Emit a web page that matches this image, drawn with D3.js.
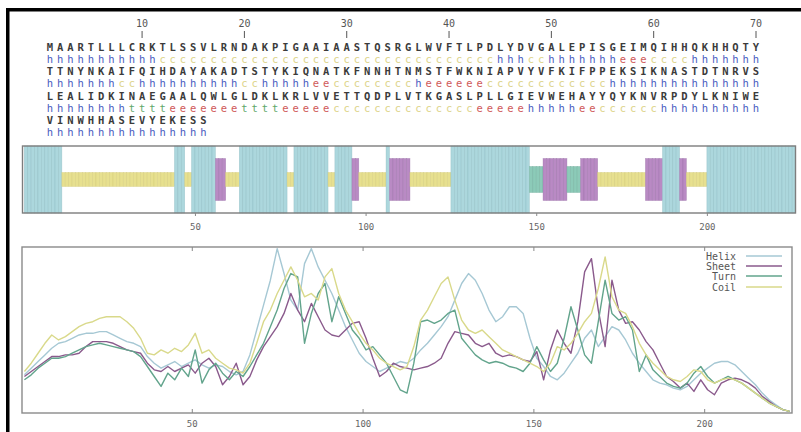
<!DOCTYPE html>
<html><head><meta charset="utf-8">
<script src="https://cdn.jsdelivr.net/npm/d3@7"></script>
<style>body{margin:0;background:#fff} svg{display:block}</style>
</head><body>
<svg id="c" width="801" height="432"></svg>
<script>
// ---------- DATA ----------
const seqLines = [
  "MAARTLLLCRKTLSSVLRNDAKPIGAAIAASTQSRGLWVFTLPDLYDVGALEPISGEIMQIHHQKHHQTY",
  "TTNYNKAIFQIHDAYAKADTSTYKIQNATKFNNHTNMSTFWKNIAPVYVFKIFPPEKSIKNASTDTNRVS",
  "LEALIDKINAEGAALQWLGLDKLKRLVVETTQDPLVTKGASLPLLGIEVWEHAYYQYKNVRPDYLKNIWE",
  "VINWHHASEVYEKESS"
];
// predicted secondary structure runs: [state, length]
const ssRuns = [["h",11],["c",33],["h",3],["c",2],["h",7],["e",3],["c",4],["h",14],["c",2],
  ["h",10],["c",2],["h",5],["e",2],["c",8],["h",1],["e",6],["c",12],["h",23],["t",4],["e",7],
  ["t",4],["e",5],["c",14],["e",5],["h",5],["e",2],["c",6],["h",26]];
const rulerTicks = [10,20,30,40,50,60,70];
const axisTicks = [50,100,150,200];
const seriesNames = ["Helix","Sheet","Turn","Coil"];
const residues = [1,3,5,7,9,11,13,15,17,19,21,23,25,27,29,31,33,35,37,39,41,43,45,47,49,51,53,55,57,59,
  61,63,65,67,69,71,73,75,77,79,81,83,85,87,89,91,93,95,97,99,101,103,105,107,109,111,113,115,117,119,
  121,123,125,127,129,131,133,135,137,139,141,143,145,147,149,151,153,155,157,159,161,163,165,167,169,
  171,173,175,177,179,181,183,185,187,189,191,193,195,197,199,201,203,205,207,209,211,213,215,217,219,
  221,223,225];
const helix = [.23,.27,.31,.35,.39,.42,.43,.45,.47,.48,
  .48,.49,.49,.47,.45,.43,.42,.40,.34,.30,
  .27,.29,.31,.28,.30,.32,.29,.27,.29,.28,
  .25,.23,.25,.35,.50,.65,.80,.99,.84,.68,
  .62,.90,.99,.88,.80,.72,.62,.52,.44,.36,
  .31,.28,.25,.27,.29,.31,.30,.33,.38,.42,
  .47,.52,.58,.68,.78,.84,.80,.72,.62,.55,
  .58,.64,.64,.60,.45,.33,.28,.22,.20,.24,
  .30,.36,.45,.50,.40,.46,.52,.50,.44,.36,
  .30,.25,.20,.18,.17,.15,.14,.16,.20,.24,
  .27,.30,.31,.31,.29,.25,.21,.17,.12,.08,
  .05,.02,.01];
const sheet = [.22,.25,.28,.31,.34,.34,.35,.35,.36,.40,
  .43,.43,.43,.42,.40,.38,.37,.36,.30,.26,
  .25,.28,.25,.27,.29,.24,.30,.33,.28,.17,
  .22,.30,.17,.22,.32,.40,.46,.52,.60,.72,
  .62,.55,.66,.58,.50,.47,.46,.50,.54,.55,
  .45,.33,.22,.25,.30,.28,.27,.26,.27,.28,
  .30,.33,.42,.49,.48,.47,.42,.40,.42,.36,
  .34,.35,.34,.32,.31,.37,.20,.38,.50,.42,
  .36,.55,.85,.93,.62,.40,.80,.62,.54,.55,
  .50,.43,.38,.30,.22,.19,.15,.18,.13,.20,
  .14,.11,.18,.20,.21,.20,.18,.15,.10,.07,
  .04,.02,.01];
const turn = [.20,.23,.27,.30,.33,.33,.34,.36,.38,.40,
  .41,.42,.41,.40,.39,.38,.37,.34,.28,.22,
  .16,.24,.20,.27,.22,.38,.18,.26,.30,.24,
  .20,.25,.22,.28,.35,.42,.52,.62,.75,.84,
  .82,.42,.60,.72,.78,.55,.70,.60,.50,.45,
  .38,.40,.35,.30,.22,.14,.12,.30,.55,.56,
  .54,.56,.60,.62,.45,.40,.35,.32,.30,.31,
  .30,.28,.27,.25,.30,.40,.32,.25,.30,.45,
  .64,.50,.35,.30,.55,.80,.60,.56,.58,.50,
  .25,.35,.26,.22,.18,.16,.15,.18,.24,.28,
  .22,.18,.20,.22,.20,.18,.15,.12,.09,.06,
  .04,.02,.01];
const coil = [.25,.30,.36,.42,.47,.44,.46,.49,.52,.54,
  .55,.57,.58,.58,.58,.55,.51,.45,.36,.35,
  .38,.36,.39,.37,.41,.48,.36,.38,.33,.30,
  .27,.26,.24,.30,.42,.55,.62,.72,.80,.88,
  .80,.70,.72,.68,.82,.87,.72,.62,.55,.48,
  .42,.38,.33,.30,.28,.26,.28,.40,.56,.62,
  .70,.78,.82,.68,.56,.50,.48,.50,.46,.42,
  .38,.36,.34,.32,.30,.28,.25,.30,.40,.38,
  .42,.48,.55,.60,.75,.94,.70,.62,.60,.52,
  .42,.35,.30,.26,.22,.20,.19,.22,.26,.25,
  .20,.18,.20,.21,.20,.18,.15,.12,.09,.06,
  .04,.02,.01];

// ---------- STYLE ----------
const ssColor = {h:"#4a5cc0", c:"#ddd48a", e:"#d05a5a", t:"#5fa86a"};
const barFill = {h:"#acd7dd", c:"#e7e08f", e:"#b98ac4", t:"#8ccab8"};
const barStroke = {h:"#86b6be", c:"#cfc672", e:"#946aa2", t:"#6aa896"};
const lineColor = ["#a6c8d4","#8a5a8c","#62a48c","#d9d98a"];

const ss = ssRuns.map(([s,n]) => s.repeat(n)).join("");
const ssLines = [0,1,2,3].map(i => ss.slice(i*70, i*70+70));

const svg = d3.select("#c");
svg.append("rect").attr("width",801).attr("height",432).attr("fill","#fff");
// outer black frame (top + left)
svg.append("rect").attr("x",6).attr("y",8).attr("width",795).attr("height",3.5).attr("fill","#000");
svg.append("rect").attr("x",6).attr("y",8).attr("width",3.5).attr("height",424).attr("fill","#000");

// ---------- SEQUENCE TEXT ----------
const charX = d3.scaleLinear().domain([1,70]).range([50,756]);
const mono = "'DejaVu Sans Mono', monospace";
const txt = svg.append("g");
txt.selectAll("text.rl").data(rulerTicks).join("text").attr("class","rl")
  .attr("x", d => charX(d)).attr("y", 27).attr("text-anchor","middle")
  .attr("font-family", mono).attr("font-size", 10).attr("fill","#555").text(d => d);
txt.selectAll("line.rt").data(rulerTicks).join("line").attr("class","rt")
  .attr("x1", d => charX(d)).attr("x2", d => charX(d)).attr("y1", 31).attr("y2", 38)
  .attr("stroke","#555").attr("stroke-width",1);

const rowBase = [51, 63, 75, 87, 100, 112, 124, 136];
seqLines.forEach((line, li) => {
  const yS = rowBase[li*2], yT = rowBase[li*2+1];
  txt.append("g").selectAll("text").data(line.split("")).join("text")
    .attr("x", (d,i) => charX(i+1)).attr("y", yS).attr("text-anchor","middle")
    .attr("font-family", mono).attr("font-size", 10.5).attr("font-weight","bold")
    .attr("fill","#3b3b3b").text(d => d);
  txt.append("g").selectAll("text").data(ssLines[li].split("")).join("text")
    .attr("x", (d,i) => charX(i+1)).attr("y", yT).attr("text-anchor","middle")
    .attr("font-family", mono).attr("font-size", 10.5)
    .attr("fill", d => ssColor[d]).text(d => d);
});

// ---------- STRUCTURE BAR PANEL ----------
const xb = d3.scaleLinear().domain([0,226]).range([24.3,795.6]);
const barTop = 146, barBot = 213, barMid = (barTop+barBot)/2;
const halfH = {h:(barBot-barTop)/2, e:21, t:13, c:7};
const bars = svg.append("g");
bars.selectAll("rect").data(ss.split("")).join("rect")
  .attr("x", (d,i) => xb(i)).attr("width", (d,i) => xb(i+1)-xb(i))
  .attr("y", d => barMid - halfH[d]).attr("height", d => 2*halfH[d])
  .attr("fill", d => barFill[d]).attr("stroke", d => barStroke[d])
  .attr("stroke-width", 0.6).attr("stroke-opacity", 0.55);
svg.append("rect").attr("x",22.5).attr("y",barTop).attr("width",773).attr("height",barBot-barTop)
  .attr("fill","none").attr("stroke","#7d7d7d").attr("stroke-width",1.4);
const axB = svg.append("g").attr("transform",`translate(0,${barBot})`)
  .call(d3.axisBottom(xb).tickValues(axisTicks).tickSize(3).tickPadding(8));
axB.select(".domain").remove();
axB.selectAll("line").attr("stroke","#888");
axB.selectAll("text").attr("font-family",mono).attr("font-size",9).attr("fill","#666");

// ---------- PROFILE PANEL ----------
const pL = 22, pR = 792, pT = 247, pB = 413;
const xp = d3.scaleLinear().domain([0,226]).range([21,793]);
const yp = d3.scaleLinear().domain([0,1]).range([pB,pT]);
svg.append("rect").attr("x",pL).attr("y",pT).attr("width",pR-pL).attr("height",pB-pT)
  .attr("fill","none").attr("stroke","#8a8a8a").attr("stroke-width",1.4);
const axP = svg.append("g").attr("transform",`translate(0,${pB})`)
  .call(d3.axisBottom(xp).tickValues(axisTicks).tickSize(-4).tickPadding(8));
axP.select(".domain").remove();
axP.selectAll("line").attr("stroke","#888");
axP.selectAll("text").attr("font-family",mono).attr("font-size",9).attr("fill","#666");
const axPT = svg.append("g").attr("transform",`translate(0,${pT})`)
  .call(d3.axisTop(xp).tickValues(axisTicks).tickSize(-4).tickFormat(""));
axPT.select(".domain").remove();
axPT.selectAll("line").attr("stroke","#888");

const series = [helix, sheet, turn, coil];
const line = d3.line().x((d,i) => xp(residues[i])).y(d => yp(d)).curve(d3.curveLinear);
const lg = svg.append("g");
series.forEach((s, k) => {
  lg.append("path").datum(s).attr("d", line).attr("fill","none")
    .attr("stroke", lineColor[k]).attr("stroke-width", 1.4).attr("stroke-linejoin","round");
});

// legend
const legY = [256, 266, 276, 287];
const leg = svg.append("g");
seriesNames.forEach((n, k) => {
  leg.append("text").attr("x",736).attr("y",legY[k]+3.5).attr("text-anchor","end")
    .attr("font-family",mono).attr("font-size",10).attr("fill","#555").text(n);
  leg.append("line").attr("x1",746).attr("x2",782).attr("y1",legY[k]).attr("y2",legY[k])
    .attr("stroke",lineColor[k]).attr("stroke-width",1.6);
});
</script>
</body></html>
